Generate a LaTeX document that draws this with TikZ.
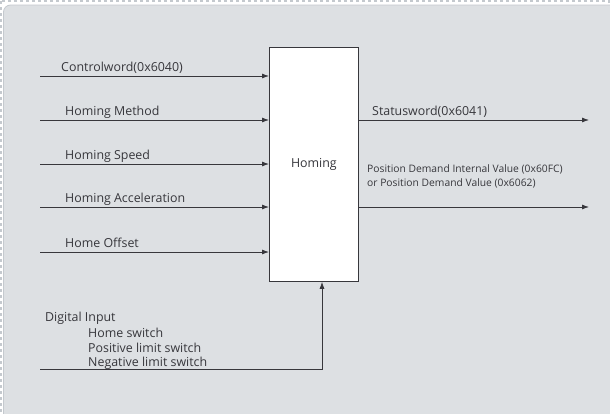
\documentclass[tikz,border=0pt]{standalone}
\usepackage{fontspec}
\setmainfont{Open Sans}
\usetikzlibrary{arrows.meta}
\definecolor{panel}{RGB}{221,224,227}
\definecolor{rim}{RGB}{196,201,206}
\definecolor{ink}{RGB}{55,55,60}

\begin{document}
\begin{tikzpicture}[x=1pt,y=-1pt,
    sig/.style={-{Latex[length=7pt,width=5pt]},line width=0.8pt,draw=ink},
    lbl/.style={anchor=base west,inner sep=0pt,text=ink,font=\fontsize{12.4}{14}\selectfont},
    small/.style={anchor=base west,inner sep=0pt,text=ink,align=left,font=\fontsize{10.3}{13.5}\selectfont}
]
    \useasboundingbox (0,0) rectangle (610,413);
    % panel
    \fill[white] (0,0) rectangle (610,413);
    \draw[rim,dashed,line width=1.5pt] (1,1) rectangle (609,412);
    \draw[rim,fill=panel,rounded corners=7pt,line width=0.8pt] (3.5,5) rectangle (620,425);
    % block
    \node[draw=ink,line width=0.8pt,fill=white,minimum width=89pt,minimum height=234pt,
        anchor=north west,text=ink,font=\fontsize{12.4}{14}\selectfont] (homing) at (269,47) {Homing};
    % inputs
    \foreach \y/\x/\t [count=\i] in {76/61/{Controlword(0x6040)},
                                     120/65/{Homing Method},
                                     164/65/{Homing Speed},
                                     207/65/{Homing Acceleration},
                                     252/65/{Home Offset}}{
        \coordinate (in\i) at (40,\y);
        \draw[sig] (in\i) -- (in\i -| homing.west);
        \node[lbl] (lin\i) at (\x,\y-5) {\t};
    }
    % outputs
    \coordinate (out1) at (589,120);
    \coordinate (out2) at (589,207);
    \draw[sig] (homing.east |- out1) -- (out1);
    \draw[sig] (homing.east |- out2) -- (out2);
    \node[lbl] (lout1) at (372,115) {Statusword(0x6041)};
    \node[small] (lout2) at (367,186) {Position Demand Internal Value (0x60FC)\\or Position Demand Value (0x6062)};
    % digital input
    \coordinate (din) at (40,369);
    \coordinate (dup) at (322,369);
    \draw[sig] (din) -- (dup) -- (dup |- homing.south);
    \node[lbl] (ldin) at (45,321) {Digital Input};
    \node[lbl] (lsw1) at (88,337) {Home switch};
    \node[lbl] (lsw2) at (88,352) {Positive limit switch};
    \node[lbl] (lsw3) at (88,366) {Negative limit switch};
\end{tikzpicture}
\end{document}
